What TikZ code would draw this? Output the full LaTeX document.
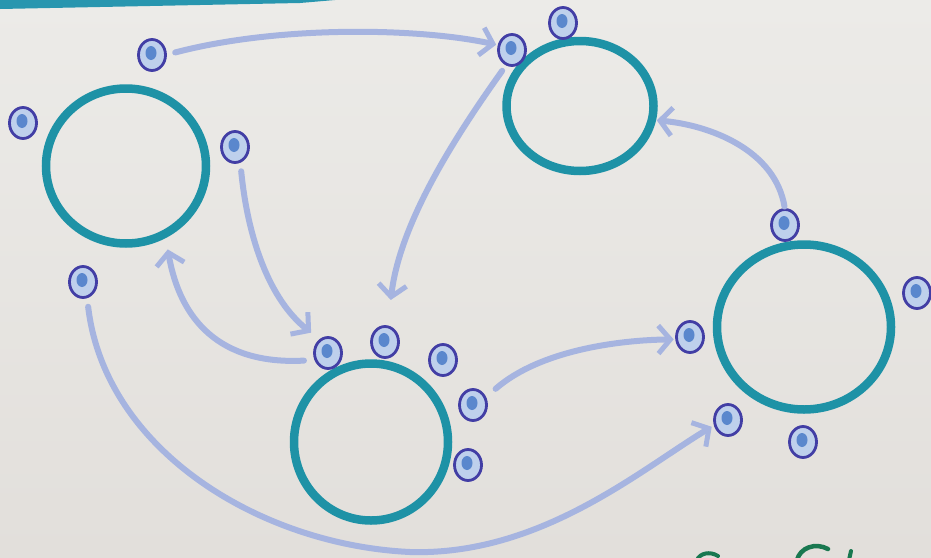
\documentclass[tikz,border=0pt]{standalone}
\usetikzlibrary{shapes.geometric,arrows.meta}
\definecolor{paperlight}{RGB}{236,235,232}
\definecolor{paperdark}{RGB}{226,223,219}
\definecolor{tealink}{RGB}{30,146,166}
\definecolor{topband}{RGB}{40,150,175}
\definecolor{portline}{RGB}{66,62,165}
\definecolor{portfill}{RGB}{190,208,236}
\definecolor{portdot}{RGB}{90,135,205}
\definecolor{arrowc}{RGB}{166,180,224}
\definecolor{greenink}{RGB}{25,120,80}
\begin{document}
\begin{tikzpicture}[x=1pt,y=-1pt,
  blob/.style={ellipse,draw=tealink,line width=8.5pt,inner sep=0pt,outer sep=0pt},
  port/.style={ellipse,draw=portline,line width=2.8pt,fill=portfill,
    minimum width=27pt,minimum height=31pt,inner sep=0pt,outer sep=0pt,
    path picture={\fill[portdot] ([xshift=-1pt,yshift=2pt]path picture bounding box.center) ellipse (5.5pt and 7pt);}},
  link/.style={draw=arrowc,line width=6pt,line cap=round,
    -{Straight Barb[length=12pt,width=28pt,line width=5pt]}}]
\useasboundingbox (0,0) rectangle (931,557);
\shade[top color=paperlight,bottom color=paperdark] (0,0) rectangle (931,557);
\fill[topband] (0,0) -- (335,0) -- (300,3) -- (0,9) -- cycle;

% big ellipses
\node[blob,minimum width=160pt,minimum height=155pt] (e1) at (126,166) {};
\node[blob,minimum width=147pt,minimum height=130pt] (e2) at (580,106) {};
\node[blob,minimum width=154pt,minimum height=157pt] (e3) at (371,442) {};
\node[blob,minimum width=174pt,minimum height=165pt] (e4) at (804,327) {};

% ports
\node[port] (p1) at (152,55) {};
\node[port] (p2) at (23,123) {};
\node[port] (p3) at (235,147) {};
\node[port] (p4) at (83,282) {};
\node[port] (p5) at (512,50) {};
\node[port] (p6) at (563,23) {};
\node[port] (p7) at (328,353) {};
\node[port] (p8) at (385,342) {};
\node[port] (p9) at (443,360) {};
\node[port] (p10) at (473,405) {};
\node[port] (p11) at (468,465) {};
\node[port] (p12) at (785,225) {};
\node[port] (p13) at (917,293) {};
\node[port] (p14) at (690,337) {};
\node[port] (p15) at (728,420) {};
\node[port] (p16) at (803,442) {};

% connectors
\draw[link,shorten <=10pt,shorten >=3pt] (p1.east) .. controls (280,25) and (420,28) .. (p5.160);
\draw[link,shorten <=8pt,shorten >=27pt] (p5.250) .. controls (460,130) and (400,220) .. (p8.80);
\draw[link,shorten <=10pt,shorten >=12pt] (p3.290) .. controls (248,240) and (270,300) .. (p7.120);
\draw[link,shorten <=12pt,shorten >=16pt] (p7.210) .. controls (220,365) and (180,320) .. (e1.300);
\draw[link,shorten <=14pt,shorten >=3pt] (p10.30) .. controls (540,350) and (620,340) .. (p14.190);
\draw[link,shorten <=10pt,shorten >=4pt] (p4.285) .. controls (105,450) and (260,545) .. (410,552)
   .. controls (540,556) and (640,470) .. (p15.200);
\draw[link,shorten <=3pt,shorten >=5pt] (p12.north) .. controls (775,150) and (710,125) .. (e2.-11);

% cut-off green handwriting at the bottom edge
\draw[greenink,line width=4pt,line cap=round] (697,560) .. controls (700,553) and (710,551) .. (718,556);
\draw[greenink,line width=4.5pt,line cap=round] (797,560) .. controls (800,548) and (815,542) .. (828,549);
\draw[greenink,line width=4pt,line cap=round] (849,560) -- (851,551);
\end{tikzpicture}
\end{document}
